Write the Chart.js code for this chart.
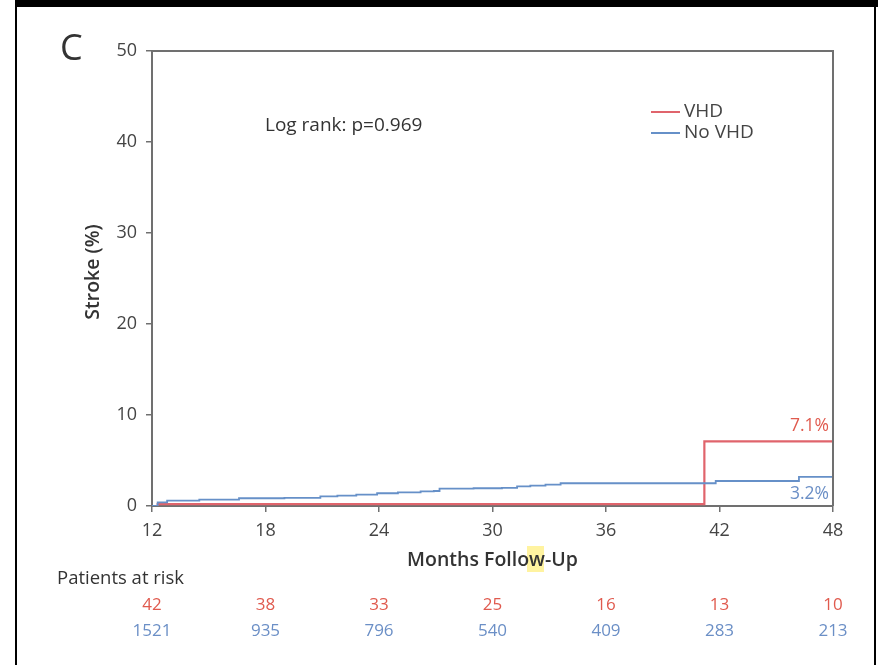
<!DOCTYPE html>
<html>
<head>
<meta charset="utf-8">
<title>Stroke by VHD</title>
<script src="https://cdn.jsdelivr.net/npm/chart.js@4.4.1/dist/chart.umd.min.js"></script>
<style>
  html, body { margin: 0; padding: 0; background: #fff; }
  canvas { display: block; }
</style>
</head>
<body>
<canvas id="strokeChart" width="878" height="665"></canvas>
<script>
// cumulative stroke (%) over follow-up, Kaplan-Meier style steps
var vhdMonths = [12, 12.3, 41.2, 48];
var vhdStroke = [0, 0.2, 7.1, 7.1];

var noVhdMonths = [12, 12.3, 12.8, 14.5, 16.6, 19, 20.9, 21.8, 22.8, 23.9, 25, 26.2, 26.9, 27.2, 29, 30.5, 31.3, 32, 32.8, 33.6, 41.8, 46.2, 48];
var noVhdStroke = [0, 0.4, 0.6, 0.7, 0.85, 0.9, 1.05, 1.15, 1.25, 1.4, 1.5, 1.6, 1.65, 1.9, 1.95, 2.0, 2.15, 2.25, 2.35, 2.5, 2.75, 3.2, 3.2];

var monthTicks = [12, 18, 24, 30, 36, 42, 48];
var strokeTicks = [0, 10, 20, 30, 40, 50];

var atRiskVhd = [42, 38, 33, 25, 16, 13, 10];
var atRiskNoVhd = [1521, 935, 796, 540, 409, 283, 213];

var RED = "#e0646c";
var BLUE = "#6690c8";
var RED_TEXT = "#e05a4e";
var BLUE_TEXT = "#6b8fc6";
var FONT = "'Open Sans', 'DejaVu Sans', sans-serif";

function toPoints(xs, ys) {
  return xs.map(function (x, i) { return { x: x, y: ys[i] }; });
}

var decor = {
  id: "decor",
  beforeDraw: function (chart) {
    var c = chart.ctx;
    c.save();
    c.fillStyle = "#fff";
    c.fillRect(0, 0, chart.width, chart.height);
    // little yellow marker behind the axis title
    c.fillStyle = "rgba(255, 238, 120, 0.7)";
    c.fillRect(527, 546, 17, 26);
    c.restore();
  },
  afterDraw: function (chart) {
    var c = chart.ctx;
    var a = chart.chartArea;
    var xs = chart.scales.x;
    var ys = chart.scales.y;
    c.save();

    // top and right edges of the plot box
    c.strokeStyle = "#707070";
    c.lineWidth = 2;
    c.beginPath();
    c.moveTo(a.left, a.top);
    c.lineTo(a.right, a.top);
    c.lineTo(a.right, a.bottom);
    c.stroke();

    // panel letter
    c.fillStyle = "#333";
    c.font = "36px " + FONT;
    c.textBaseline = "middle";
    c.textAlign = "left";
    c.fillText("C", 60, 50);

    c.font = "19px " + FONT;
    c.fillText("Log rank: p=0.969", 265, 126);

    // legend
    c.lineWidth = 2;
    c.strokeStyle = RED;
    c.beginPath(); c.moveTo(651, 112); c.lineTo(680, 112); c.stroke();
    c.strokeStyle = BLUE;
    c.beginPath(); c.moveTo(651, 133); c.lineTo(680, 133); c.stroke();
    c.fillStyle = "#444";
    c.font = "19px " + FONT;
    c.fillText("VHD", 684, 112);
    c.fillText("No VHD", 684, 133);

    // end-of-curve values
    c.textAlign = "right";
    c.font = "17.5px " + FONT;
    c.fillStyle = RED_TEXT;
    c.fillText("7.1%", a.right - 4, ys.getPixelForValue(vhdStroke[vhdStroke.length - 1]) - 15);
    c.fillStyle = BLUE_TEXT;
    c.fillText("3.2%", a.right - 4, ys.getPixelForValue(noVhdStroke[noVhdStroke.length - 1]) + 17);

    // axis titles
    c.fillStyle = "#333";
    c.font = "600 19.5px " + FONT;
    c.textAlign = "center";
    c.fillText("Months Follow-Up", (a.left + a.right) / 2, 560);
    c.save();
    c.translate(93, 272);
    c.rotate(-Math.PI / 2);
    c.fillText("Stroke (%)", 0, 0);
    c.restore();

    // numbers at risk
    c.textAlign = "left";
    c.font = "18.5px " + FONT;
    c.fillText("Patients at risk", 57, 579);
    c.textAlign = "center";
    c.font = "17px " + FONT;
    monthTicks.forEach(function (m, i) {
      var px = xs.getPixelForValue(m);
      c.fillStyle = RED_TEXT;
      c.fillText(String(atRiskVhd[i]), px, 605);
      c.fillStyle = BLUE_TEXT;
      c.fillText(String(atRiskNoVhd[i]), px, 631);
    });

    // black frame around the panel
    c.fillStyle = "#000";
    c.fillRect(15, 0, chart.width - 15, 7);
    c.fillRect(15, 0, 2, chart.height);
    c.fillRect(874, 0, 2, chart.height);
    c.restore();
  }
};

var ctx = document.getElementById("strokeChart");
var strokeChart = new Chart(ctx, {
  type: "line",
  data: {
    datasets: [
      {
        label: "No VHD",
        data: toPoints(noVhdMonths, noVhdStroke),
        borderColor: BLUE,
        borderWidth: 1.8,
        stepped: true,
        pointRadius: 0,
        fill: false
      },
      {
        label: "VHD",
        data: toPoints(vhdMonths, vhdStroke),
        borderColor: RED,
        borderWidth: 2.2,
        stepped: true,
        pointRadius: 0,
        fill: false
      }
    ]
  },
  options: {
    responsive: false,
    animation: false,
    devicePixelRatio: 1,
    layout: { padding: { top: 51, right: 45, left: 0, bottom: 0 } },
    plugins: {
      legend: { display: false },
      tooltip: { enabled: false }
    },
    scales: {
      x: {
        type: "linear",
        min: 12,
        max: 48,
        afterBuildTicks: function (s) { s.ticks = monthTicks.map(function (v) { return { value: v }; }); },
        afterFit: function (s) { s.height = 159; },
        grid: { drawOnChartArea: false, drawTicks: true, tickLength: 6, color: "#707070", lineWidth: 1.5 },
        border: { display: true, color: "#707070", width: 2 },
        ticks: { color: "#444", padding: 8, maxRotation: 0, font: { size: 18, family: FONT } }
      },
      y: {
        min: 0,
        max: 50,
        afterBuildTicks: function (s) { s.ticks = strokeTicks.map(function (v) { return { value: v }; }); },
        afterFit: function (s) { s.width = 152; },
        grid: { drawOnChartArea: false, drawTicks: true, tickLength: 6, color: "#707070", lineWidth: 1.5 },
        border: { display: true, color: "#707070", width: 2 },
        ticks: { color: "#444", padding: 9, font: { size: 18, family: FONT } }
      }
    }
  },
  plugins: [decor]
});
</script>
</body>
</html>
